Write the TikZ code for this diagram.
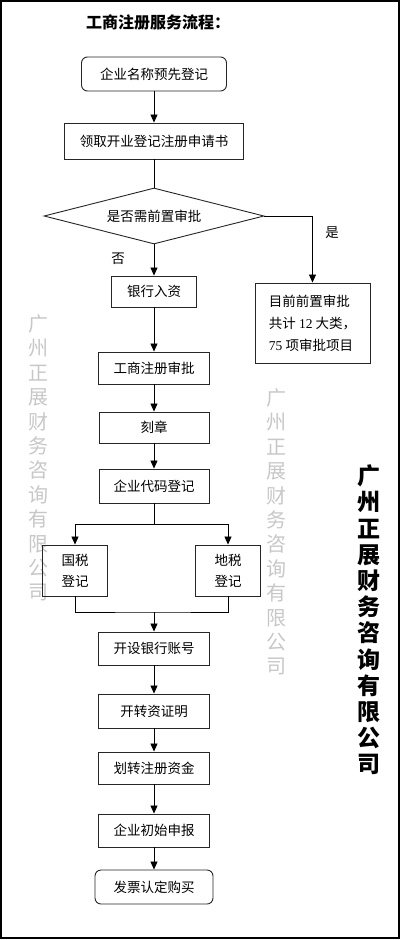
\documentclass[tikz,border=0pt]{standalone}
\usepackage{fontspec}
\setmainfont{Liberation Serif}
\newfontfamily\cjk{Noto Sans CJK SC}
\usetikzlibrary{arrows.meta, shapes.geometric}

\tikzset{
  box/.style={draw=black!85, line width=0.9pt, font=\cjk\fontsize{13.5}{16}\selectfont, inner sep=0pt, align=center},
  roundbox/.style={box, rounded corners=6pt},
  decide/.style={box, diamond, aspect=4, minimum width=220pt, minimum height=56pt},
  arr/.style={-{Triangle[width=7pt,length=8pt]}, line width=0.8pt},
  lbl/.style={font=\cjk\fontsize{13.5}{16}\selectfont},
  wmark/.style={font=\cjk\fontsize{20}{24.4}\selectfont, align=center, inner sep=0pt}
}

\begin{document}
\begin{tikzpicture}[x=1pt, y=-1pt]
  \useasboundingbox (0,0) rectangle (400,940);
  \draw[line width=1.2pt] (1,1) rectangle (399,938);

  % watermarks
  \node[wmark, text=black!22] (wmleft) at (38,458) {广\\州\\正\\展\\财\\务\\咨\\询\\有\\限\\公\\司};
  \node[wmark, text=black!22] (wmmid) at (276,532) {广\\州\\正\\展\\财\\务\\咨\\询\\有\\限\\公\\司};
  \node[wmark, font=\cjk\bfseries\fontsize{23}{26.2}\selectfont] (wmright) at (368.5,620) {广\\州\\正\\展\\财\\务\\咨\\询\\有\\限\\公\\司};

  \node[font=\cjk\bfseries\fontsize{16}{18}\selectfont] (title) at (158,22) {工商注册服务流程：};

  \node[roundbox, minimum width=145pt, minimum height=34pt] (name) at (154,74) {企业名称预先登记};
  \node[box, minimum width=179pt, minimum height=36pt] (form) at (154,141) {领取开业登记注册申请书};
  \node[decide] (pre) at (154,216) {是否需前置审批};
  \node[box, minimum width=115pt, minimum height=80pt, font=\cjk\fontsize{13.5}{22}\selectfont, align=left] (prelist) at (312.5,323)
    {目前前置审批\\共计 {\rmfamily 12} 大类，\\{\rmfamily 75} 项审批项目};
  \node[box, minimum width=85pt, minimum height=31pt] (bank) at (154,291.5) {银行入资};
  \node[box, minimum width=111pt, minimum height=32pt] (reg) at (154,368) {工商注册审批};
  \node[box, minimum width=110pt, minimum height=31pt] (seal) at (154,427.5) {刻章};
  \node[box, minimum width=110pt, minimum height=34pt] (code) at (154,486) {企业代码登记};
  \node[box, minimum width=65pt, minimum height=51pt, font=\cjk\fontsize{13.5}{21}\selectfont] (guo) at (75,570.5) {国税\\登记};
  \node[box, minimum width=65pt, minimum height=51pt, font=\cjk\fontsize{13.5}{21}\selectfont] (di) at (228,570.5) {地税\\登记};
  \node[box, minimum width=111pt, minimum height=33pt] (account) at (154,648.5) {开设银行账号};
  \node[box, minimum width=111pt, minimum height=34pt] (proof) at (154,711) {开转资证明};
  \node[box, minimum width=111pt, minimum height=32pt] (move) at (154,768) {划转注册资金};
  \node[box, minimum width=111pt, minimum height=33pt] (report) at (154,830.5) {企业初始申报};
  \node[roundbox, minimum width=118pt, minimum height=34pt] (invoice) at (154,887) {发票认定购买};

  \node[lbl] (yes) at (332,233) {是};
  \node[lbl] (no) at (118,259) {否};

  \draw[arr] (name) -- (form);
  \draw[line width=0.8pt] (form) -- (pre);
  \draw[arr] (pre) -- (bank);
  \draw[arr] (pre.east) -| (prelist.north);
  \draw[arr] (bank) -- (reg);
  \draw[arr] (reg) -- (seal);
  \draw[arr] (seal) -- (code);

  \coordinate (split) at (154,524);
  \draw[line width=0.8pt] (code) -- (split);
  \draw[arr] (split) -| (guo.north);
  \draw[arr] (split) -| (di.north);

  \coordinate (merge) at (154,612);
  \draw[line width=0.8pt] (guo.south) |- (merge) -| (di.south);
  \draw[arr] (merge) -- (account);
  \draw[arr] (account) -- (proof);
  \draw[arr] (proof) -- (move);
  \draw[arr] (move) -- (report);
  \draw[arr] (report) -- (invoice);
\end{tikzpicture}
\end{document}
